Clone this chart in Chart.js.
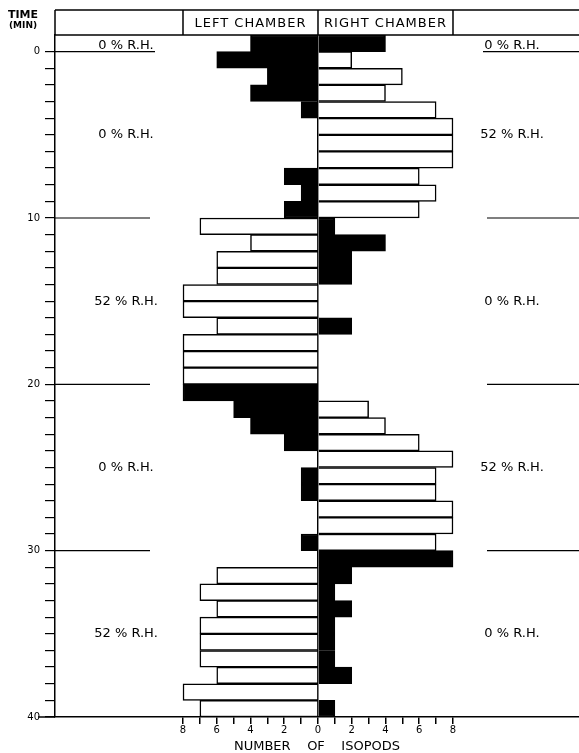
<!DOCTYPE html>
<html>
<head>
<meta charset="utf-8">
<script src="https://cdn.jsdelivr.net/npm/chart.js@4.4.0/dist/chart.umd.min.js"></script>
<style>
  html, body { margin: 0; padding: 0; background: #fff; }
  #wrap { width: 579px; height: 753px; }
</style>
</head>
<body>
<div id="wrap"><canvas id="isopods"></canvas></div>
<script>
// one row per minute, first row is the minute before the test (both chambers dry)
const minutes = ['pre', '1', '2', '3', '4', '5', '6', '7', '8', '9', '10',
  '11', '12', '13', '14', '15', '16', '17', '18', '19', '20',
  '21', '22', '23', '24', '25', '26', '27', '28', '29', '30',
  '31', '32', '33', '34', '35', '36', '37', '38', '39', '40'];
const leftCount = [4, 6, 3, 4, 1, 0, 0, 0, 2, 1, 2,
  7, 4, 6, 6, 8, 8, 6, 8, 8, 8,
  8, 5, 4, 2, 0, 1, 1, 0, 0, 1,
  0, 6, 7, 6, 7, 7, 7, 6, 8, 7];
const rightCount = [4, 2, 5, 4, 7, 8, 8, 8, 6, 7, 6,
  1, 4, 2, 2, 0, 0, 2, 0, 0, 0,
  0, 3, 4, 6, 8, 7, 7, 8, 8, 7,
  8, 2, 1, 2, 1, 1, 1, 2, 0, 1];

// humidity periods (end minute of each) and R.H. in each chamber
const periodEnd = [0, 10, 20, 30, 40];
const leftRH = [0, 0, 52, 0, 52];
const rightRH = [0, 52, 0, 52, 0];

const timeLabels = [0, 10, 20, 30, 40];
const countLabels = [8, 6, 4, 2, 0, 2, 4, 6, 8];

function periodOf(i) {
  for (let p = 0; p < periodEnd.length; p++) if (i <= periodEnd[p]) return p;
  return periodEnd.length - 1;
}
// black bar = isopods in the dry (0 %) chamber
const leftColors = leftCount.map((_, i) => leftRH[periodOf(i)] === 0 ? '#000' : '#fff');
const rightColors = rightCount.map((_, i) => rightRH[periodOf(i)] === 0 ? '#000' : '#fff');

const FONT = '"DejaVu Sans", sans-serif';

const decor = {
  id: 'decor',
  afterDraw(chart) {
    const {ctx, chartArea: a, scales: {x, t}} = chart;
    ctx.save();
    ctx.strokeStyle = '#000';
    ctx.fillStyle = '#000';
    ctx.lineWidth = 1.5;
    const line = (x1, y1, x2, y2) => { ctx.beginPath(); ctx.moveTo(x1, y1); ctx.lineTo(x2, y2); ctx.stroke(); };

    // header box
    const headTop = 10;
    line(a.left, headTop, a.right, headTop);
    line(a.left, a.top, a.right, a.top);
    line(a.left, headTop, a.left, a.top);
    [-8, 0, 8].forEach(v => line(x.getPixelForValue(v), headTop, x.getPixelForValue(v), a.top));
    ctx.font = '13px ' + FONT;
    ctx.letterSpacing = '1px';
    ctx.textAlign = 'center';
    ctx.textBaseline = 'middle';
    const hy = (headTop + a.top) / 2 + 1;
    ctx.fillText('LEFT CHAMBER', (x.getPixelForValue(-8) + x.getPixelForValue(0)) / 2, hy);
    ctx.fillText('RIGHT CHAMBER', (x.getPixelForValue(0) + x.getPixelForValue(8)) / 2, hy);
    ctx.letterSpacing = '0px';

    // period dividers
    ctx.lineWidth = 1.2;
    periodEnd.slice(0, -1).forEach(v => {
      const y = t.getPixelForValue(v);
      line(a.left, y, v === 0 ? 155 : 150, y);
      line(v === 0 ? 483 : 487, y, a.right, y);
    });
    ctx.lineWidth = 1.5;
    line(38, a.bottom, a.left, a.bottom);

    // R.H. labels
    ctx.font = '13px ' + FONT;
    periodEnd.forEach((end, p) => {
      let y;
      if (p === 0) { ctx.textBaseline = 'alphabetic'; y = t.getPixelForValue(0) - 3; }
      else { ctx.textBaseline = 'middle'; y = t.getPixelForValue((periodEnd[p - 1] + end) / 2); }
      ctx.fillText(leftRH[p] + ' % R.H.', 126, y);
      ctx.fillText(rightRH[p] + ' % R.H.', 512, y);
    });

    // axis caption
    ctx.textBaseline = 'middle';
    ctx.font = 'bold 11px ' + FONT;
    ctx.fillText('TIME', 23, 15);
    ctx.font = 'bold 9px ' + FONT;
    ctx.fillText('(MIN)', 23, 26);
    ctx.restore();
  }
};

new Chart(document.getElementById('isopods'), {
  type: 'bar',
  data: {
    labels: minutes,
    datasets: [
      {
        label: 'Left chamber',
        data: leftCount.map(v => -v),
        backgroundColor: leftColors,
        borderColor: '#000',
        borderWidth: 1.5,
        barPercentage: 1,
        categoryPercentage: 1,
        xAxisID: 'x',
        yAxisID: 'y'
      },
      {
        label: 'Right chamber',
        data: rightCount,
        backgroundColor: rightColors,
        borderColor: '#000',
        borderWidth: 1.5,
        barPercentage: 1,
        categoryPercentage: 1,
        xAxisID: 'x',
        yAxisID: 'y'
      }
    ]
  },
  options: {
    indexAxis: 'y',
    responsive: true,
    maintainAspectRatio: false,
    animation: false,
    layout: { padding: { top: 35, right: 0, bottom: 0, left: 0 } },
    plugins: {
      legend: { display: false },
      tooltip: { enabled: false }
    },
    scales: {
      x: {
        type: 'linear',
        min: -15.585,
        max: 15.467,
        stacked: true,
        afterBuildTicks: s => {
          const ticks = [];
          for (let v = -8; v <= 8; v++) ticks.push({value: v});
          s.ticks = ticks;
        },
        afterFit: s => { s.height = 36; },
        grid: {
          drawOnChartArea: true,
          color: c => (c.tick && c.tick.value === 0) ? '#000' : 'rgba(0,0,0,0)',
          lineWidth: 1.5,
          tickColor: '#000',
          tickLength: 7
        },
        border: { display: true, color: '#000', width: 1.5 },
        ticks: {
          autoSkip: false,
          maxRotation: 0,
          padding: 0,
          color: '#000',
          font: { family: FONT, size: 10 },
          callback: v => {
            const i = countLabels.indexOf(Math.abs(v));
            return (i >= 0 && v % 2 === 0) ? String(Math.abs(v)) : '';
          }
        },
        title: {
          display: true,
          text: 'NUMBER    OF    ISOPODS',
          color: '#000',
          font: { family: FONT, size: 13, lineHeight: 1 },
          padding: { top: 0, bottom: 0 }
        }
      },
      y: {
        type: 'category',
        stacked: true,
        display: false,
        offset: true
      },
      t: {
        type: 'linear',
        position: 'left',
        min: -1,
        max: 40,
        reverse: true,
        offset: false,
        afterBuildTicks: s => {
          const ticks = [];
          for (let v = 0; v <= 40; v++) ticks.push({value: v});
          s.ticks = ticks;
        },
        afterFit: s => { s.width = 55; },
        grid: {
          offset: false,
          drawOnChartArea: false,
          tickColor: '#000',
          tickLength: 10,
          lineWidth: 1.2
        },
        border: { display: true, color: '#000', width: 1.5 },
        ticks: {
          autoSkip: false,
          padding: 5,
          color: '#000',
          font: { family: FONT, size: 10 },
          callback: v => timeLabels.includes(v) ? String(v) : ''
        }
      }
    }
  },
  plugins: [decor]
});
</script>
</body>
</html>
